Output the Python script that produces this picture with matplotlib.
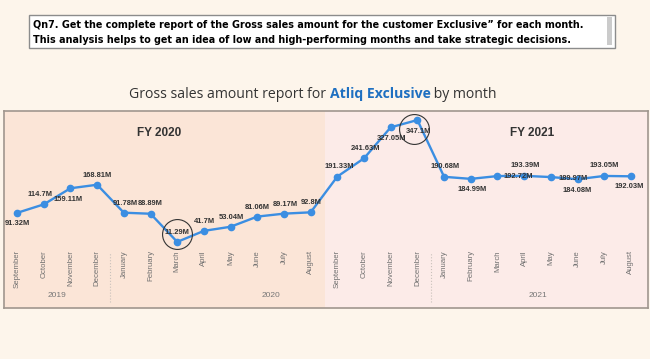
import matplotlib
matplotlib.use('Agg')
import matplotlib.pyplot as plt
import matplotlib.transforms as mtransforms
from matplotlib.patches import Rectangle

# monthly gross sales, Atliq Exclusive (in millions)
months = ['September', 'October', 'November', 'December', 'January', 'February',
          'March', 'April', 'May', 'June', 'July', 'August'] * 2
sales = [91.32, 114.7, 159.11, 168.81, 91.78, 88.89, 11.29, 41.7, 53.04, 81.06, 89.17, 92.8,
         191.33, 241.63, 327.05, 347.1, 190.68, 184.99, 192.72, 193.39, 189.97, 184.08, 193.05, 192.03]
years = ['2019', '2020', '2021']
year_first = [0, 4, 16]
year_last = [3, 15, 23]
fy_names = ['FY 2020', 'FY 2021']
circled = [6, 15]

question = ['Qn7. Get the complete report of the Gross sales amount for the customer Exclusive\u201d for each month.',
            'This analysis helps to get an idea of low and high-performing months and take strategic decisions.']

# label placement (pixels relative to the point)
lab_dx = [0, -4, -2, 0, 1, 0, 0, 1, 1, 0, 1, 1, 2, 1, 1, 1, 1, 1, 21, 1, 22, 0, 0, -2]
lab_dy = [-11, 10, -11, 9, 9, 10, 9, 9, 9, 9, 9, 10, 10, 10, -11, -11, 10, -11, 0, 10, -1, -11, 10, -10]
circ_off = [(0, 8), (-3, -9)]

W, H = 650, 359
fig = plt.figure(figsize=(6.5, 3.59), dpi=100)
fig.patch.set_facecolor('#fdf5eb')

def fx(px):
    return px / W

def fy(py):
    return 1 - py / H

x = list(range(len(sales)))
xlim = (-0.49, 23.64)

# background panel
bg = fig.add_axes([fx(4), fy(308), fx(644), 197 / H])
bg.set_xlim(xlim)
bg.set_ylim(0, 1)
bg.axvspan(xlim[0], 11.53, color='#fbe5d7', lw=0)
bg.axvspan(11.53, xlim[1], color='#fcebe8', lw=0)
bg.set_xticks([])
bg.set_yticks([])
for s in bg.spines.values():
    s.set_color('#a0968e')
    s.set_linewidth(1.2)

trans = mtransforms.blended_transform_factory(bg.transData, bg.transAxes)
for yr, a, b in zip(years, year_first, year_last):
    bg.text((a + b) / 2, 0.061, yr, transform=trans, ha='center', va='center',
            fontsize=6, color='#777777', family='Liberation Sans')
for b in year_last[:-1]:
    bg.plot([b + 0.5, b + 0.5], [0.03, 0.28], transform=trans, color='#c9c1bb',
            lw=0.8, ls=':')

bg.text(0.241, 0.888, fy_names[0], transform=bg.transAxes, ha='center', va='center',
        fontsize=8.5, fontweight='bold', color='#333333', family='Liberation Sans')
bg.text(0.82, 0.888, fy_names[1], transform=bg.transAxes, ha='center', va='center',
        fontsize=8.5, fontweight='bold', color='#333333', family='Liberation Sans')

# line chart
ax = fig.add_axes([fx(4), fy(250), fx(644), 139 / H])
ax.patch.set_alpha(0)
ax.set_xlim(xlim)
ax.set_ylim(-11, 372)
ax.plot(x, sales, color='#3b8ee2', lw=1.7, marker='o', markersize=4.5, zorder=3)
for i, v in enumerate(sales):
    ax.annotate(f'{v:g}M', (i, v), xytext=(lab_dx[i], lab_dy[i]), textcoords='offset pixels',
                ha='center', va='center', fontsize=5.4, fontweight='bold', color='#333333',
                family='Liberation Sans', zorder=4)
for i, (dx, dy) in zip(circled, circ_off):
    tr = mtransforms.offset_copy(ax.transData, fig=fig, x=dx, y=dy, units='dots')
    ax.plot(i, sales[i], marker='o', markersize=21.5, markerfacecolor='none',
            markeredgecolor='#333333', markeredgewidth=0.8, transform=tr, zorder=5,
            clip_on=False)

ax.set_yticks([])
ax.set_xticks(x)
ax.set_xticklabels(months, rotation=90, fontsize=5.6, color='#707070', family='Liberation Sans')
ax.tick_params(axis='x', length=0, pad=0)
for s in ax.spines.values():
    s.set_visible(False)

# question box
fig.patches.append(Rectangle((fx(29), fy(48)), fx(586), 33 / H, transform=fig.transFigure,
                             facecolor='white', edgecolor='#8c8c8c', lw=1.0))
fig.patches.append(Rectangle((fx(607), fy(45)), fx(5), 28 / H, transform=fig.transFigure,
                             facecolor='#cbcbcb', edgecolor='none'))

renderer = fig.canvas.get_renderer()
t1 = fig.text(fx(33), fy(25), question[0], ha='left', va='center', fontsize=7,
              fontweight='bold', color='black', family='DejaVu Sans')
w = t1.get_window_extent(renderer).width
qs = 7 * 550 / w
t1.set_fontsize(qs)
fig.text(fx(33), fy(40), question[1], ha='left', va='center', fontsize=qs,
         fontweight='bold', color='black', family='DejaVu Sans')

# title in three colored pieces
parts = ['Gross sales amount report for ', 'Atliq Exclusive', ' by month']
weights = ['normal', 'bold', 'normal']
colors = ['#333333', '#1f70c1', '#333333']
size = 11
objs = [fig.text(0, fy(98), p, fontsize=size, fontweight=wt, color=c, family='Open Sans',
                 va='baseline', ha='left') for p, wt, c in zip(parts, weights, colors)]
total = sum(o.get_window_extent(renderer).width for o in objs)
size = size * 366 / total
xpos = 129
for o in objs:
    o.set_fontsize(size)
    o.set_x(fx(xpos))
    xpos += o.get_window_extent(renderer).width

fig.savefig('out.png', dpi=100, facecolor=fig.get_facecolor())
